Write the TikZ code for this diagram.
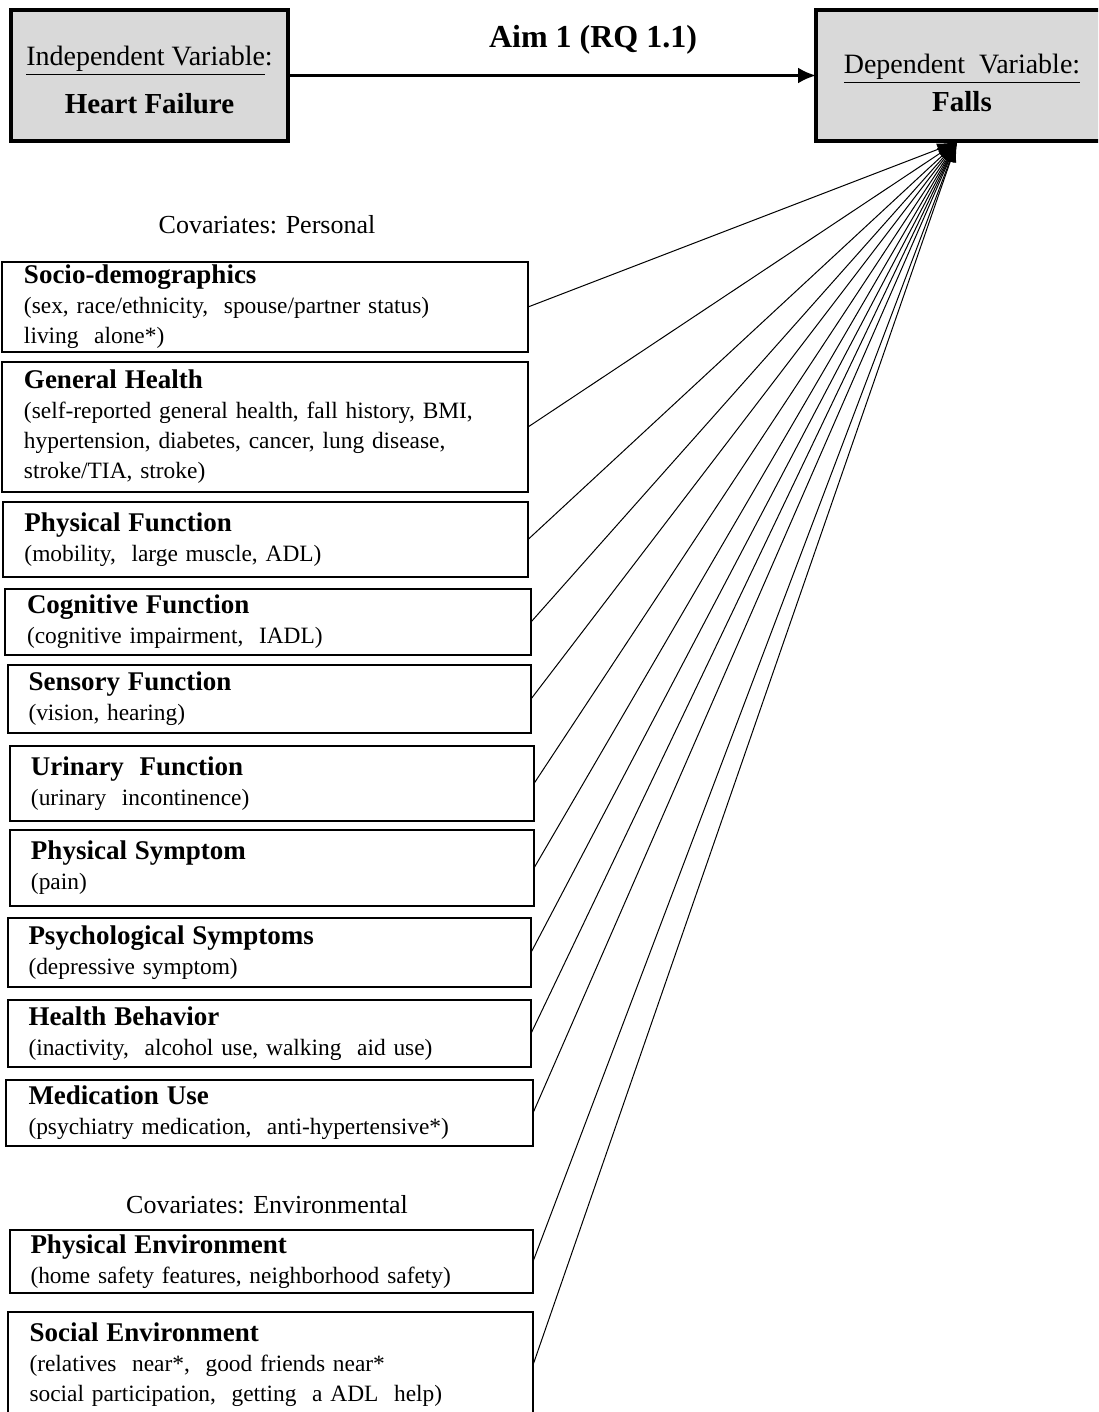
\documentclass[tikz,border=0pt]{standalone}
\usepackage{fontspec}
\setmainfont{Liberation Serif}
\usetikzlibrary{arrows.meta}

\newcommand{\hd}[1]{{\fontsize{13.5}{15}\selectfont\bfseries #1}}

\begin{document}
\begin{tikzpicture}[x=0.5pt,y=-0.5pt,
  every node/.style={inner sep=0pt, outer sep=0pt},
  topbox/.style={draw=black, line width=1.6pt, fill=black!15, anchor=north west,
    align=center, minimum height=65.5pt},
  cbox/.style={draw=black, line width=1pt, anchor=north west, align=left,
    text width=241pt, font=\fontsize{11.7}{15}\selectfont},
  covlabel/.style={font=\fontsize{13}{15}\selectfont},
  mainarrow/.style={line width=1.5pt, -{Latex[length=9pt,width=8pt]}},
  fan/.style={line width=0.5pt, -{Latex[length=10pt,width=6pt]}}
]
\useasboundingbox (0,0) rectangle (1098,1412);
\fill[white] (0,0) rectangle (1098,1412);
\clip (0,0) rectangle (1098,1412);

% exposure and outcome
\node[topbox, minimum width=138.5pt] (hf) at (11,10)
  {\rule{0pt}{14pt}\fontsize{14}{16}\selectfont\underline{Independent Variable}:\\[8pt]
   {\fontsize{14.5}{16}\selectfont\bfseries Heart Failure}};
\node[topbox, minimum width=146pt] (falls) at (816,10)
  {\rule{0pt}{17pt}\fontsize{14}{16}\selectfont\underline{Dependent\ \ Variable:}\\[3pt]
   {\fontsize{14.5}{16}\selectfont\bfseries Falls}};
\draw[mainarrow] (hf.east) -- (falls.west);
\node[font=\fontsize{16}{18}\selectfont\bfseries] (aim) at (593,40) {Aim 1 (RQ 1.1)};

\coordinate (tip) at (957,142);

% personal covariates
\node[covlabel] (covp) at (267,225) {Covariates: Personal};

\node[cbox, minimum width=263pt, minimum height=45pt] (socio) at (2,262)
  {\hd{Socio-demographics}\\
   (sex, race/ethnicity,\ \ spouse/partner status)\\
   living\ \ alone*)};
\node[cbox, minimum width=263pt, minimum height=65pt] (gen) at (2,362)
  {\hd{General Health}\\
   (self-reported general health, fall history, BMI,\\
   hypertension, diabetes, cancer, lung disease,\\
   stroke/TIA, stroke)};
\node[cbox, minimum width=262.5pt, minimum height=37.5pt] (phys) at (3,502)
  {\hd{Physical Function}\\
   (mobility,\ \ large muscle, ADL)};
\node[cbox, minimum width=263pt, minimum height=33pt] (cog) at (5,589)
  {\hd{Cognitive Function}\\
   (cognitive impairment,\ \ IADL)};
\node[cbox, minimum width=261.5pt, minimum height=34pt] (sens) at (8,665)
  {\hd{Sensory Function}\\
   (vision, hearing)};
\node[cbox, minimum width=262pt, minimum height=37.5pt] (urin) at (10,746)
  {\hd{Urinary\ \ Function}\\
   (urinary\ \ incontinence)};
\node[cbox, minimum width=262pt, minimum height=38pt] (symp) at (10,830)
  {\hd{Physical Symptom}\\
   (pain)};
\node[cbox, minimum width=261.5pt, minimum height=34.5pt] (psych) at (8,918)
  {\hd{Psychological Symptoms}\\
   (depressive symptom)};
\node[cbox, minimum width=261.5pt, minimum height=33.5pt] (behav) at (8,1000)
  {\hd{Health Behavior}\\
   (inactivity,\ \ alcohol use, walking\ \ aid use)};
\node[cbox, minimum width=263.5pt, minimum height=33pt] (med) at (6,1080)
  {\hd{Medication Use}\\
   (psychiatry medication,\ \ anti-hypertensive*)};

% environmental covariates
\node[covlabel] (cove) at (267,1205) {Covariates: Environmental};

\node[cbox, minimum width=261.5pt, minimum height=31.5pt] (penv) at (10,1230)
  {\hd{Physical Environment}\\
   (home safety features, neighborhood safety)};
\node[cbox, minimum width=262.5pt, minimum height=53pt] (senv) at (8,1312)
  {\hd{Social Environment}\\
   (relatives\ \ near*,\ \ good friends near*\\
   social participation,\ \ getting\ \ a ADL\ \ help)};

% every covariate points to the outcome
\foreach \n in {socio,gen,phys,cog,sens,urin,symp,psych,behav,med,penv,senv}
  \draw[fan] (\n.east) -- (tip);
\end{tikzpicture}
\end{document}
